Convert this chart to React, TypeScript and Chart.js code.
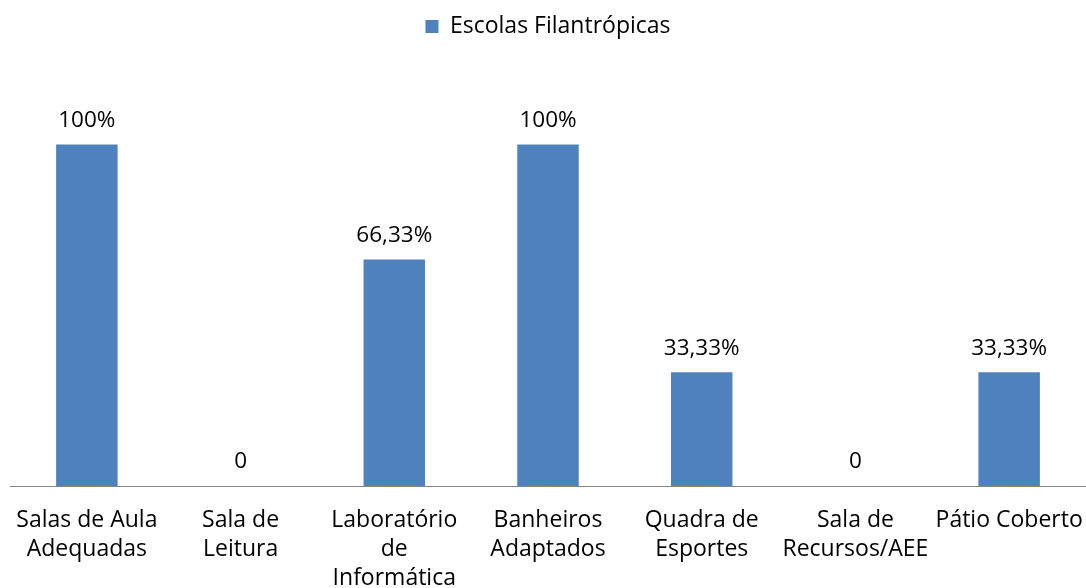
import React, { useEffect, useRef } from "react";
import { Chart, registerables } from "chart.js";

Chart.register(...registerables);

const categories: (string | string[])[] = [
  ["Salas de Aula", "Adequadas"],
  ["Sala de", "Leitura"],
  ["Laboratório", "de", "Informática"],
  ["Banheiros", "Adaptados"],
  ["Quadra de", "Esportes"],
  ["Sala de", "Recursos/AEE"],
  "Pátio Coberto",
];
const seriesName = "Escolas Filantrópicas";
const values = [100, 0, 66.33, 100, 33.33, 0, 33.33];
const valueLabels = ["100%", "0", "66,33%", "100%", "33,33%", "0", "33,33%"];

const FONT = "'Open Sans', sans-serif";

const dataLabelPlugin = {
  id: "dataLabels",
  afterDatasetsDraw(chart: any) {
    const ctx = chart.ctx;
    const meta = chart.getDatasetMeta(0);
    ctx.save();
    ctx.font = `22.5px ${FONT}`;
    ctx.fillStyle = "#000";
    ctx.textAlign = "center";
    ctx.textBaseline = "middle";
    meta.data.forEach((bar: any, i: number) => {
      ctx.fillText(valueLabels[i], bar.x, bar.y - 24);
    });
    ctx.restore();
  },
};

export default function App() {
  const ref = useRef<HTMLCanvasElement>(null);
  useEffect(() => {
    document.body.style.margin = "0";
    const chart = new Chart(ref.current!, {
      type: "bar",
      data: {
        labels: categories,
        datasets: [
          {
            label: seriesName,
            data: values,
            backgroundColor: "#4F81BD",
            borderWidth: 0,
            barPercentage: 0.4,
            categoryPercentage: 1,
          },
        ],
      },
      options: {
        animation: false,
        responsive: false,
        maintainAspectRatio: false,
        layout: { padding: { left: 10, right: 0, top: 0, bottom: 0 } },
        plugins: {
          legend: {
            display: true,
            position: "top",
            labels: {
              boxWidth: 13,
              boxHeight: 13,
              padding: 15,
              color: "#000",
              font: { family: FONT, size: 23 },
            },
          },
          tooltip: { enabled: false },
        },
        scales: {
          x: {
            grid: { display: false },
            border: { display: true, color: "#868686", width: 1 },
            ticks: {
              color: "#000",
              font: { family: FONT, size: 23, lineHeight: "29px" },
              padding: 12,
              maxRotation: 0,
              autoSkip: false,
            },
            afterFit(scale: any) {
              scale.height = 102;
              scale.paddingLeft = 0;
              scale.paddingRight = 0;
            },
          },
          y: {
            display: false,
            min: 0,
            max: 128.3,
          },
        },
      },
      plugins: [dataLabelPlugin],
    });
    return () => chart.destroy();
  }, []);
  return <canvas ref={ref} width={1086} height={588} style={{ display: "block" }} />;
}
